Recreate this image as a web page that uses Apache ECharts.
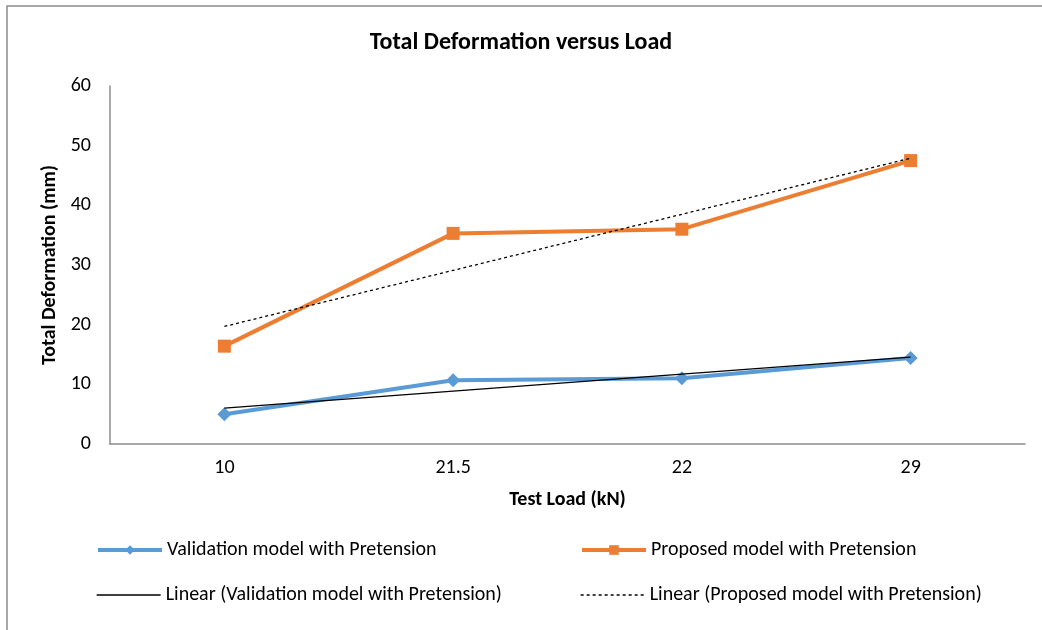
<!DOCTYPE html>
<html><head><meta charset="utf-8">
<script src="https://cdn.jsdelivr.net/npm/echarts@6/dist/echarts.min.js"></script>
<style>html,body{margin:0;padding:0;background:#fff}#c{width:1042px;height:630px}</style>
</head><body><div id="c"></div>
<script>
const categories = ['10', '21.5', '22', '29'];
const validation = [5.0, 10.7, 11.0, 14.4];
const proposed = [16.4, 35.3, 36.0, 47.5];
const yTicks = [0, 10, 20, 30, 40, 50, 60];

function linearFit(vals) {
  const n = vals.length;
  const xs = vals.map((_, i) => i + 1);
  const mx = xs.reduce((a, b) => a + b, 0) / n;
  const my = vals.reduce((a, b) => a + b, 0) / n;
  let sxy = 0, sxx = 0;
  for (let i = 0; i < n; i++) { sxy += (xs[i] - mx) * (vals[i] - my); sxx += (xs[i] - mx) ** 2; }
  const b = sxy / sxx, a = my - b * mx;
  return xs.map(x => +(a + b * x).toFixed(3));
}
const valTrend = linearFit(validation);
const propTrend = linearFit(proposed);

const FONT = 'Carlito, Lato, "Open Sans", sans-serif';
const chart = echarts.init(document.getElementById('c'), null, {renderer: 'canvas'});
const legendText = {fontFamily: FONT, fontSize: 20, color: '#000'};
const legBase = {itemWidth: 64, itemHeight: 12, itemGap: 6, textStyle: legendText, padding: 0};
chart.setOption({
  animation: false,
  backgroundColor: '#fff',
  graphic: [{type: 'rect', shape: {x: 7, y: 6, width: 1100, height: 700}, style: {fill: 'none', stroke: '#8c8c8c', lineWidth: 1.5}, silent: true}],
  title: {text: 'Total Deformation versus Load', left: 'center', top: 31, padding: 0,
    textStyle: {fontFamily: FONT, fontSize: 24, fontWeight: 'bold', color: '#000'}},
  grid: {left: 110, right: 17, top: 86, bottom: 186, containLabel: false},
  legend: [
    Object.assign({data: ['Validation model with Pretension'], left: 96, top: 540, lineStyle: {width: 4}}, legBase),
    Object.assign({data: ['Proposed model with Pretension'], left: 580, top: 540, lineStyle: {width: 4}}, legBase),
    Object.assign({data: ['Linear (Validation model with Pretension)'], left: 96, top: 585, itemStyle: {opacity: 0}, lineStyle: {width: 1.3}}, legBase),
    Object.assign({data: ['Linear (Proposed model with Pretension)'], left: 580, top: 585, itemStyle: {opacity: 0}, lineStyle: {width: 1.3}}, legBase)
  ],
  xAxis: {type: 'category', data: categories, boundaryGap: true,
    name: 'Test Load (kN)', nameLocation: 'middle', nameGap: 46,
    nameTextStyle: {fontFamily: FONT, fontSize: 20, fontWeight: 'bold', color: '#000'},
    axisLine: {lineStyle: {color: '#8c8c8c', width: 1.5}},
    axisTick: {show: false},
    axisLabel: {fontFamily: FONT, fontSize: 20, color: '#000', margin: 14}},
  yAxis: {type: 'value', min: yTicks[0], max: yTicks[yTicks.length - 1], interval: 10,
    name: 'Total Deformation (mm)', nameLocation: 'middle', nameGap: 48,
    nameTextStyle: {fontFamily: FONT, fontSize: 20, fontWeight: 'bold', color: '#000'},
    axisLine: {show: true, lineStyle: {color: '#8c8c8c', width: 1.5}},
    axisTick: {show: false},
    splitLine: {show: false},
    axisLabel: {fontFamily: FONT, fontSize: 20, color: '#000', margin: 19}},
  series: [
    {name: 'Validation model with Pretension', type: 'line', data: validation,
      symbol: 'diamond', symbolSize: 14, itemStyle: {color: '#5B9BD5'},
      lineStyle: {color: '#5B9BD5', width: 4}, z: 2},
    {name: 'Proposed model with Pretension', type: 'line', data: proposed,
      symbol: 'rect', symbolSize: 13, itemStyle: {color: '#ED7D31'},
      lineStyle: {color: '#ED7D31', width: 4}, z: 2},
    {name: 'Linear (Validation model with Pretension)', type: 'line', data: valTrend,
      symbol: 'none', itemStyle: {color: '#000'}, lineStyle: {color: '#000', width: 1.3}, z: 3},
    {name: 'Linear (Proposed model with Pretension)', type: 'line', data: propTrend,
      symbol: 'none', itemStyle: {color: '#000'}, lineStyle: {color: '#000', width: 1.3, type: [3, 3]}, z: 3}
  ]
});
</script></body></html>
